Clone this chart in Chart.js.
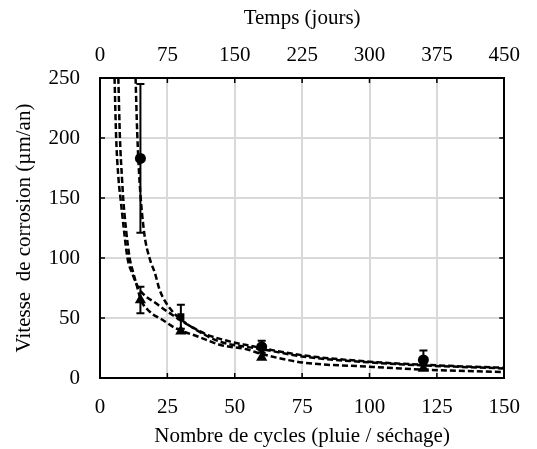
<!DOCTYPE html>
<html>
<head>
<meta charset="utf-8">
<script src="https://cdn.jsdelivr.net/npm/chart.js@4.4.1/dist/chart.umd.min.js"></script>
<style>
  html, body { margin: 0; padding: 0; background: #fff; }
  #wrap { width: 537px; height: 449px; }
</style>
</head>
<body>
<div id="wrap"><canvas id="corrosion"></canvas></div>
<script>
// measured points (cycles -> corrosion rate, µm/an) with error half-widths
var circleX = [15, 60, 120];
var circleY = [183, 26, 15];
var circleErr = [62, 5, 8];

var squareX = [30];
var squareY = [51];
var squareErr = [10];

var triangleX = [15, 30, 60, 120];
var triangleY = [65, 39, 17, 8];
var triangleErr = [11, 0, 0, 0];

// dashed trend curves
var fitAx = [13.2, 13.8, 14.7, 16.4, 18.5, 20.3, 22.2, 26.3, 30.5, 36.5, 44.8, 54.4, 60, 75, 100, 120, 150];
var fitAy = [250, 205, 163, 121, 99, 88, 73, 57, 48, 39, 30, 26, 24, 18, 13, 10.5, 8];
var fitBx = [5.4, 6.0, 6.9, 7.6, 8.8, 10.2, 12, 14.3, 20.9, 26.9, 32.9, 40.1, 48.4, 54.4, 75, 100, 120, 150];
var fitBy = [250, 200, 165, 150, 125, 100, 87, 75, 62, 52.5, 44, 35.8, 30.3, 27.5, 19, 13.6, 11, 8.5];
var fitCx = [6.8, 7.4, 8.2, 8.6, 9.6, 11, 12.3, 13.8, 15, 18.6, 23.3, 28.1, 36.5, 44.8, 54.4, 60, 75, 100, 120, 150];
var fitCy = [250, 200, 165, 150, 125, 100, 88, 76, 66, 55, 48.3, 41.4, 34.4, 27.5, 23.9, 20, 13, 9.4, 7, 5];

var cycleTicks = [0, 25, 50, 75, 100, 125, 150];
var dayTicks = [0, 75, 150, 225, 300, 375, 450];
var rateTicks = [0, 50, 100, 150, 200, 250];

function pts(xs, ys) {
  return xs.map(function (v, i) { return { x: v, y: ys[i] }; });
}

Chart.defaults.font.family = "'Liberation Serif', serif";
Chart.defaults.font.size = 21;
Chart.defaults.color = '#000';

var errGroups = [
  { x: circleX, y: circleY, e: circleErr },
  { x: squareX, y: squareY, e: squareErr },
  { x: triangleX, y: triangleY, e: triangleErr }
];

var errorBars = {
  id: 'errorBars',
  beforeDatasetsDraw: function (chart) {
    var ctx = chart.ctx, xs = chart.scales.x, ys = chart.scales.y;
    ctx.save();
    ctx.strokeStyle = '#000';
    ctx.lineWidth = 2;
    errGroups.forEach(function (g) {
      g.x.forEach(function (v, i) {
        if (!g.e[i]) return;
        var px = xs.getPixelForValue(v);
        var top = ys.getPixelForValue(g.y[i] + g.e[i]);
        var bot = ys.getPixelForValue(g.y[i] - g.e[i]);
        ctx.beginPath();
        ctx.moveTo(px, top); ctx.lineTo(px, bot);
        ctx.moveTo(px - 4, top); ctx.lineTo(px + 4, top);
        ctx.moveTo(px - 4, bot); ctx.lineTo(px + 4, bot);
        ctx.stroke();
      });
    });
    ctx.restore();
  }
};

// small tick marks pointing into the plot on all four sides
var innerTicks = {
  id: 'innerTicks',
  afterDraw: function (chart) {
    var ctx = chart.ctx, a = chart.chartArea;
    var xs = chart.scales.x, ys = chart.scales.y;
    ctx.save();
    ctx.strokeStyle = '#000';
    ctx.lineWidth = 1.5;
    ctx.beginPath();
    cycleTicks.forEach(function (t) {
      var px = xs.getPixelForValue(t);
      ctx.moveTo(px, a.bottom); ctx.lineTo(px, a.bottom - 5);
      ctx.moveTo(px, a.top); ctx.lineTo(px, a.top + 5);
    });
    rateTicks.forEach(function (t) {
      var py = ys.getPixelForValue(t);
      ctx.moveTo(a.left, py); ctx.lineTo(a.left + 5, py);
      ctx.moveTo(a.right, py); ctx.lineTo(a.right - 5, py);
    });
    ctx.stroke();
    ctx.restore();
  }
};

function markerSet(xs, ys, style, r) {
  return {
    type: 'scatter',
    data: pts(xs, ys),
    pointStyle: style,
    pointRadius: r,
    pointHoverRadius: r,
    backgroundColor: '#000',
    borderColor: '#000',
    borderWidth: 0
  };
}

function fitSet(xs, ys) {
  return {
    type: 'line',
    data: pts(xs, ys),
    borderColor: '#000',
    borderWidth: 2.5,
    borderDash: [6, 3],
    pointRadius: 0,
    fill: false,
    cubicInterpolationMode: 'monotone'
  };
}

var ctx = document.getElementById('corrosion');

var myChart = new Chart(ctx, {
  type: 'scatter',
  data: {
    datasets: [
      markerSet(triangleX, triangleY, 'triangle', 6.5),
      markerSet(squareX, squareY, 'rect', 5),
      markerSet(circleX, circleY, 'circle', 5.5),
      fitSet(fitAx, fitAy),
      fitSet(fitBx, fitBy),
      fitSet(fitCx, fitCy)
    ]
  },
  plugins: [errorBars, innerTicks],
  options: {
    responsive: true,
    maintainAspectRatio: false,
    animation: false,
    layout: { padding: 0 },
    plugins: {
      legend: { display: false },
      tooltip: { enabled: false }
    },
    scales: {
      x: {
        type: 'linear',
        position: 'bottom',
        min: 0, max: 150,
        afterBuildTicks: function (s) { s.ticks = cycleTicks.map(function (v) { return { value: v }; }); },
        ticks: { padding: 17 },
        grid: { color: '#d9d9d9', lineWidth: 2, drawTicks: false },
        border: { color: '#000', width: 2 },
        title: { display: true, text: 'Nombre de cycles (pluie / séchage)', padding: { top: 1, bottom: 0 } },
        afterFit: function (s) { s.height = 71; }
      },
      x2: {
        type: 'linear',
        position: 'top',
        min: 0, max: 450,
        afterBuildTicks: function (s) { s.ticks = dayTicks.map(function (v) { return { value: v }; }); },
        ticks: { padding: 10 },
        grid: { display: false, drawTicks: false },
        border: { color: '#000', width: 2 },
        title: { display: true, text: 'Temps (jours)', padding: { top: 6, bottom: 4 } },
        afterFit: function (s) { s.height = 78; }
      },
      y: {
        type: 'linear',
        position: 'left',
        min: 0, max: 250,
        afterBuildTicks: function (s) { s.ticks = rateTicks.map(function (v) { return { value: v }; }); },
        ticks: { padding: 20 },
        grid: { color: '#d9d9d9', lineWidth: 2, drawTicks: false },
        border: { color: '#000', width: 2 },
        title: { display: true, text: 'Vitesse  de corrosion (µm/an)', padding: { top: 12, bottom: 4 } },
        afterFit: function (s) { s.width = 100; }
      },
      y2: {
        type: 'linear',
        position: 'right',
        min: 0, max: 250,
        ticks: { display: false },
        grid: { display: false, drawTicks: false },
        border: { color: '#000', width: 2 },
        afterFit: function (s) { s.width = 19; }
      }
    }
  }
});
</script>
</body>
</html>
